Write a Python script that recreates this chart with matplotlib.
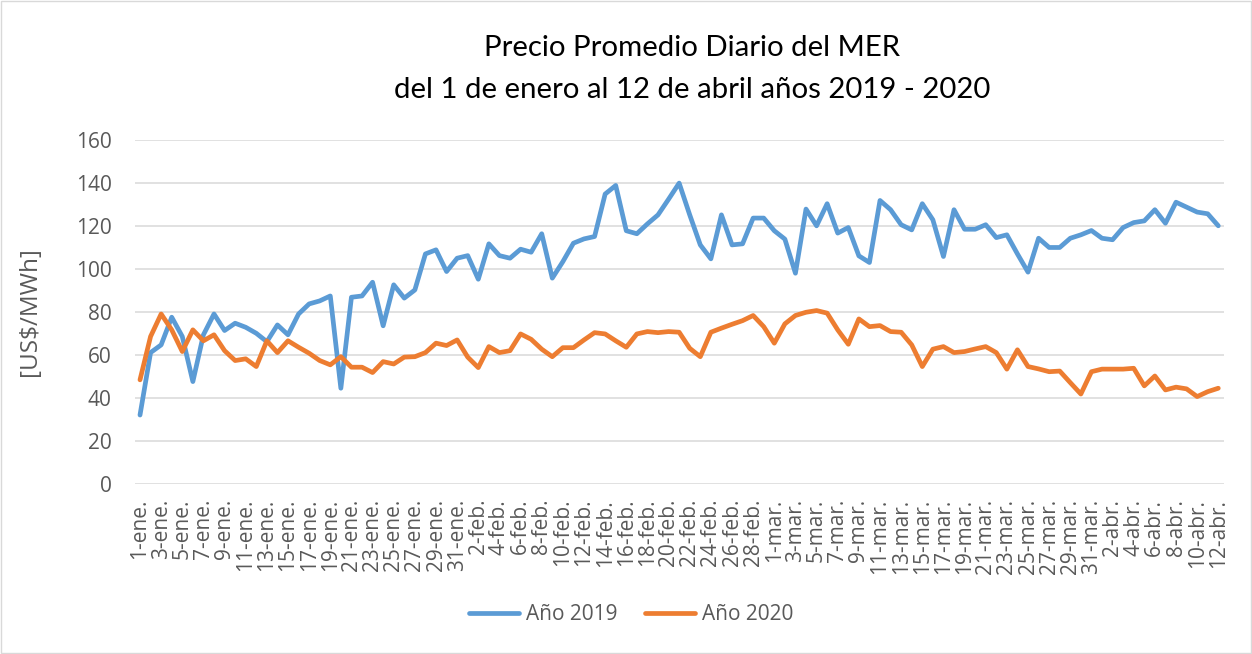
import matplotlib
matplotlib.use("Agg")
import matplotlib.pyplot as plt
import pandas as pd
from matplotlib.patches import Rectangle

# precio promedio diario, US$/MWh
precio_2019 = [32.0, 61.1, 64.7, 77.6, 68.6, 47.6, 69.4, 79.1, 71.4, 74.8,
               72.9, 70.1, 66.2, 74.0, 69.4, 79.1, 83.8, 85.2, 87.5, 44.5,
               86.9, 87.5, 93.9, 73.6, 92.7, 86.5, 90.3, 107.1, 109.0, 98.9,
               105.1, 106.3, 95.3, 111.8, 106.3, 105.1, 109.3, 107.9, 116.5, 95.8,
               103.5, 112.1, 114.1, 115.2, 135.0, 139.0, 117.9, 116.5, 121.1, 125.3,
               132.6, 140.1, 125.3, 111.3, 104.8, 125.3, 111.3, 111.8, 123.8, 123.8,
               117.9, 114.0, 98.1, 128.0, 120.2, 130.5, 116.8, 119.4, 106.2, 103.1,
               132.0, 127.7, 120.7, 118.3, 130.5, 123.0, 105.9, 127.7, 118.6, 118.6,
               120.7, 114.7, 116.0, 107.1, 98.6, 114.4, 110.1, 110.1, 114.4, 116.0,
               118.0, 114.4, 113.7, 119.4, 121.7, 122.5, 127.7, 121.4, 131.2, 128.9,
               126.6, 125.8, 120.2]
precio_2020 = [48.4, 68.6, 79.1, 71.7, 61.6, 71.7, 66.6, 69.4, 62.0, 57.4,
               58.2, 54.6, 66.6, 61.1, 66.6, 63.6, 60.8, 57.4, 55.4, 59.2,
               54.3, 54.3, 51.8, 56.9, 55.8, 59.0, 59.2, 61.1, 65.5, 64.4,
               67.0, 59.0, 54.1, 63.9, 61.1, 62.0, 69.8, 67.3, 62.7, 59.2,
               63.4, 63.4, 67.0, 70.4, 69.8, 66.6, 63.6, 69.8, 70.9, 70.4,
               70.9, 70.6, 63.1, 59.2, 70.6, 72.5, 74.3, 76.0, 78.4, 73.2,
               65.5, 74.5, 78.4, 79.9, 80.7, 79.5, 71.7, 65.0, 76.8, 73.2,
               73.7, 70.9, 70.6, 64.7, 54.6, 62.7, 63.9, 61.1, 61.6, 62.8,
               63.9, 61.1, 53.4, 62.4, 54.6, 53.5, 52.2, 52.5, 47.1, 41.8,
               52.2, 53.4, 53.4, 53.4, 53.8, 45.6, 50.2, 43.7, 45.0, 44.2,
               40.6, 42.9, 44.5]

meses = {1: "ene.", 2: "feb.", 3: "mar.", 4: "abr."}
fechas = pd.date_range("2020-01-01", "2020-04-12")
etiquetas = [f"{d.day}-{meses[d.month]}" for d in fechas]
y_ticks = [0, 20, 40, 60, 80, 100, 120, 140, 160]

gris = "#595959"
plt.rcParams["font.family"] = ["Open Sans", "DejaVu Sans"]

fig = plt.figure(figsize=(12.52, 6.54), dpi=100)
ax = fig.add_axes([0.1076, 0.2604, 0.8697, 0.5249])

x = list(range(len(etiquetas)))
ax.plot(x, precio_2019, color="#5B9BD5", lw=3.4, solid_joinstyle="round",
        solid_capstyle="round", label="Año 2019")
ax.plot(x, precio_2020, color="#ED7D31", lw=3.4, solid_joinstyle="round",
        solid_capstyle="round", label="Año 2020")

ax.set_xlim(-0.5, len(etiquetas) - 0.5)
ax.set_ylim(0, 160)
ax.set_yticks(y_ticks)
ax.set_xticks(x[::2])
ax.set_xticklabels(etiquetas[::2], rotation=90)
ax.tick_params(axis="both", length=0, labelsize=15, labelcolor=gris)
ax.tick_params(axis="y", pad=16.5)
ax.tick_params(axis="x", pad=11)
ax.grid(axis="y", color="#D9D9D9", lw=1.1)
ax.set_axisbelow(True)
for s in ax.spines.values():
    s.set_visible(False)

ax.set_ylabel("[US$/MWh]", fontsize=17.5, color=gris)
ax.yaxis.set_label_coords(-0.0854, 0.5)

fig.text(0.553, 1 - 48 / 654, "Precio Promedio Diario del MER",
         ha="center", va="center", fontsize=21.2, family=["Lato", "DejaVu Sans"])
fig.text(0.553, 1 - 90 / 654, "del 1 de enero al 12 de abril años 2019 - 2020",
         ha="center", va="center", fontsize=21.2, family=["Lato", "DejaVu Sans"])

leg = fig.legend(loc="center", bbox_to_anchor=(631 / 1252, 1 - 615 / 654), ncol=2,
                 frameon=False, fontsize=15, handlelength=2.4,
                 handletextpad=0.35, columnspacing=1.3)
for t in leg.get_texts():
    t.set_color(gris)

fig.add_artist(Rectangle((0.0008, 0.0015), 0.9984, 0.997, transform=fig.transFigure,
                         fill=False, edgecolor="#D9D9D9", lw=1))

fig.savefig("out.png", dpi=100)
